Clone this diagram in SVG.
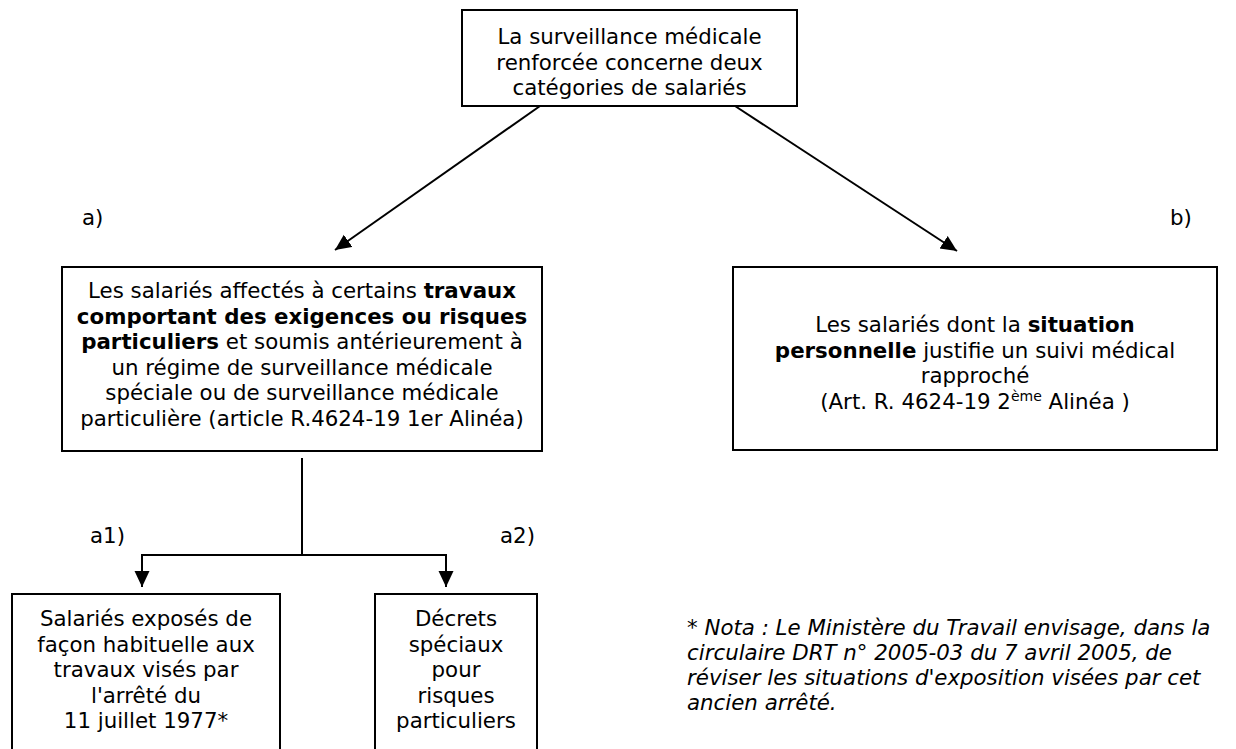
<svg xmlns="http://www.w3.org/2000/svg" width="1236" height="749" viewBox="0 0 1236 749">
<style>
.box{fill:#fff;stroke:#000;stroke-width:2}
.t{font-family:Verdana,"DejaVu Sans",sans-serif;font-size:21.33px;fill:#000}
.c{text-anchor:middle}
.b{font-weight:bold}
.i{font-style:italic}
.ln{stroke:#000;stroke-width:2;fill:none}
</style>
<defs>
<marker id="ah" markerUnits="userSpaceOnUse" markerWidth="18" markerHeight="16" refX="16" refY="7.5" orient="auto">
<path d="M0,0 L16,7.5 L0,15 z" fill="#000"/>
</marker>
</defs>
<g id="connectors">
<line class="ln" x1="540" y1="106" x2="335" y2="250" marker-end="url(#ah)"/>
<line class="ln" x1="735" y1="106" x2="957" y2="251" marker-end="url(#ah)"/>
<line class="ln" x1="302" y1="458" x2="302" y2="555"/>
<line class="ln" x1="141" y1="555" x2="447" y2="555"/>
<line class="ln" x1="142" y1="555" x2="142" y2="587" marker-end="url(#ah)"/>
<line class="ln" x1="446" y1="555" x2="446" y2="587" marker-end="url(#ah)"/>
</g>
<g id="top">
<rect class="box" x="462" y="10" width="335" height="96"/>
<text class="t c" x="629.5" y="44">La surveillance médicale</text>
<text class="t c" x="629.5" y="69.5">renforcée concerne deux</text>
<text class="t c" x="629.5" y="95">catégories de salariés</text>
</g>
<g id="label-a"><text class="t" x="82" y="225">a)</text></g>
<g id="label-b"><text class="t" x="1170" y="225">b)</text></g>
<g id="node-a">
<rect class="box" x="62" y="267" width="480" height="184"/>
<text class="t c" x="302" y="298">Les salariés affectés à certains <tspan class="b">travaux</tspan></text>
<text class="t c b" x="302" y="323.6">comportant des exigences ou risques</text>
<text class="t c" x="302" y="349.2"><tspan class="b">particuliers</tspan> et soumis antérieurement à</text>
<text class="t c" x="302" y="374.8">un régime de surveillance médicale</text>
<text class="t c" x="302" y="400.4">spéciale ou de surveillance médicale</text>
<text class="t c" x="302" y="426">particulière (article R.4624-19 1er Alinéa)</text>
</g>
<g id="node-b">
<rect class="box" x="733" y="267" width="484" height="183"/>
<text class="t c" x="975" y="332">Les salariés dont la <tspan class="b">situation</tspan></text>
<text class="t c" x="975" y="357.6"><tspan class="b">personnelle</tspan> justifie un suivi médical</text>
<text class="t c" x="975" y="383.2">rapproché</text>
<text class="t c" x="975" y="408.8">(Art. R. 4624-19 2<tspan font-size="14" dy="-8">ème</tspan><tspan dy="8"> Alinéa )</tspan></text>
</g>
<g id="label-a1"><text class="t" x="90" y="543">a1)</text></g>
<g id="label-a2"><text class="t" x="500" y="543">a2)</text></g>
<g id="node-a1">
<rect class="box" x="12" y="594" width="268" height="170"/>
<text class="t c" x="146" y="626">Salariés exposés de</text>
<text class="t c" x="146" y="651.5">façon habituelle aux</text>
<text class="t c" x="146" y="677">travaux visés par</text>
<text class="t c" x="146" y="702.5">l'arrêté du</text>
<text class="t c" x="146" y="728">11 juillet 1977*</text>
</g>
<g id="node-a2">
<rect class="box" x="375" y="594" width="162" height="170"/>
<text class="t c" x="456" y="626">Décrets</text>
<text class="t c" x="456" y="651.5">spéciaux</text>
<text class="t c" x="456" y="677">pour</text>
<text class="t c" x="456" y="702.5">risques</text>
<text class="t c" x="456" y="728">particuliers</text>
</g>
<g id="nota">
<text class="t i" x="687" y="635">* Nota : Le Ministère du Travail envisage, dans la</text>
<text class="t i" x="687" y="660">circulaire DRT n° 2005-03 du 7 avril 2005, de</text>
<text class="t i" x="687" y="685">réviser les situations d'exposition visées par cet</text>
<text class="t i" x="687" y="710">ancien arrêté.</text>
</g>
</svg>
